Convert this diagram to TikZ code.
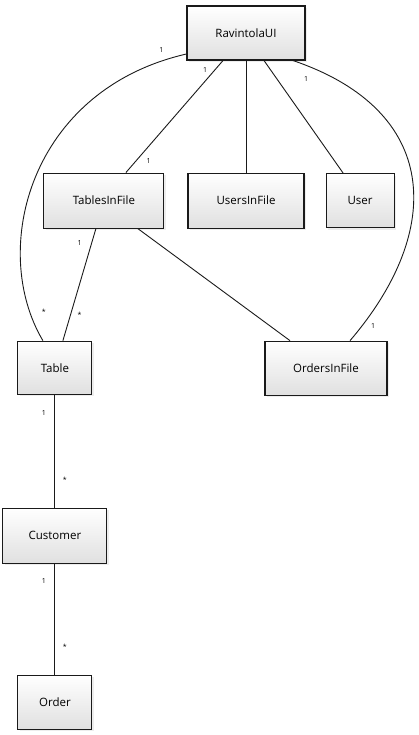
\documentclass[tikz,border=0pt]{standalone}
\usepackage{fontspec}
\setmainfont{Open Sans}
\usetikzlibrary{positioning,shadows}
\definecolor{UMLInk}{HTML}{1A1A1A}
\definecolor{UMLShade}{HTML}{E0E0E0}
\tikzset{
  umlbox/.style={
    draw=UMLInk,
    line width=1.1pt,
    top color=white,
    bottom color=UMLShade,
    inner sep=0pt,
    align=center,
    font=\fontsize{11.5}{13}\selectfont,
    drop shadow={opacity=0.18,shadow xshift=2pt,shadow yshift=-2pt,fill=black!40}
  },
  umledge/.style={draw=UMLInk,line width=0.9pt},
  umlmult/.style={font=\fontsize{7}{8}\selectfont,inner sep=0pt}
}

\begin{document}
\begin{tikzpicture}[x=1pt,y=1pt]
  \useasboundingbox (0,0) rectangle (418,-735);
  \node[umlbox,minimum width=118pt,minimum height=54pt] (ravintola) at (246,-33) {RavintolaUI};
  \node[umlbox,below=112pt of ravintola,minimum width=116pt,minimum height=55pt] (usersinfile) {UsersInFile};
  \node[umlbox,left=23pt of usersinfile,minimum width=120pt,minimum height=55pt] (tablesinfile) {TablesInFile};
  \node[umlbox,right=21pt of usersinfile,minimum width=68pt,minimum height=54pt] (user) {User};
  \node[umlbox,below=112pt of tablesinfile,xshift=-49pt,minimum width=74pt,minimum height=53pt] (table) {Table};
  \node[umlbox,below=112pt of usersinfile,xshift=80pt,minimum width=122pt,minimum height=54pt] (ordersinfile) {OrdersInFile};
  \node[umlbox,below=113pt of table,minimum width=104pt,minimum height=55pt] (customer) {Customer};
  \node[umlbox,below=111pt of customer,minimum width=74pt,minimum height=54pt] (order) {Order};
  % ui associations
  \draw[umledge] ([yshift=-21pt]ravintola.west) .. controls +(-157,-36) and +(-54,91) .. ([xshift=-12pt]table.north)
    node[umlmult,at start,xshift=-25pt,yshift=4pt] {1}
    node[umlmult,at end,xshift=1pt,yshift=29pt] {*};
  \draw[umledge] ([xshift=-23pt]ravintola.south) -- ([xshift=22pt]tablesinfile.north)
    node[umlmult,pos=0.08,xshift=-10pt] {1}
    node[umlmult,pos=0.9,xshift=13pt] {1};
  \draw[umledge] (ravintola.south) -- (usersinfile.north);
  \draw[umledge] ([xshift=18pt]ravintola.south) -- ([xshift=-17pt]user.north);
  \draw[umledge] ([xshift=47pt]ravintola.south) .. controls +(147,-50) and +(95,111) .. ([xshift=24pt]ordersinfile.north)
    node[umlmult,at start,xshift=13pt,yshift=-18pt] {1}
    node[umlmult,at end,xshift=23pt,yshift=15pt] {1};
  % file associations
  \draw[umledge] ([xshift=-8pt]tablesinfile.south) -- ([xshift=8pt]table.north)
    node[umlmult,pos=0.13,xshift=-12pt] {1}
    node[umlmult,pos=0.77,xshift=9pt] {*};
  \draw[umledge] ([xshift=34pt]tablesinfile.south) -- ([xshift=-36pt]ordersinfile.north);
  % domain
  \draw[umledge] (table) -- (customer)
    node[umlmult,pos=0.16,xshift=-11pt] {1}
    node[umlmult,pos=0.75,xshift=10pt] {*};
  \draw[umledge] (customer) -- (order)
    node[umlmult,pos=0.15,xshift=-11pt] {1}
    node[umlmult,pos=0.75,xshift=10pt] {*};
\end{tikzpicture}
\end{document}
